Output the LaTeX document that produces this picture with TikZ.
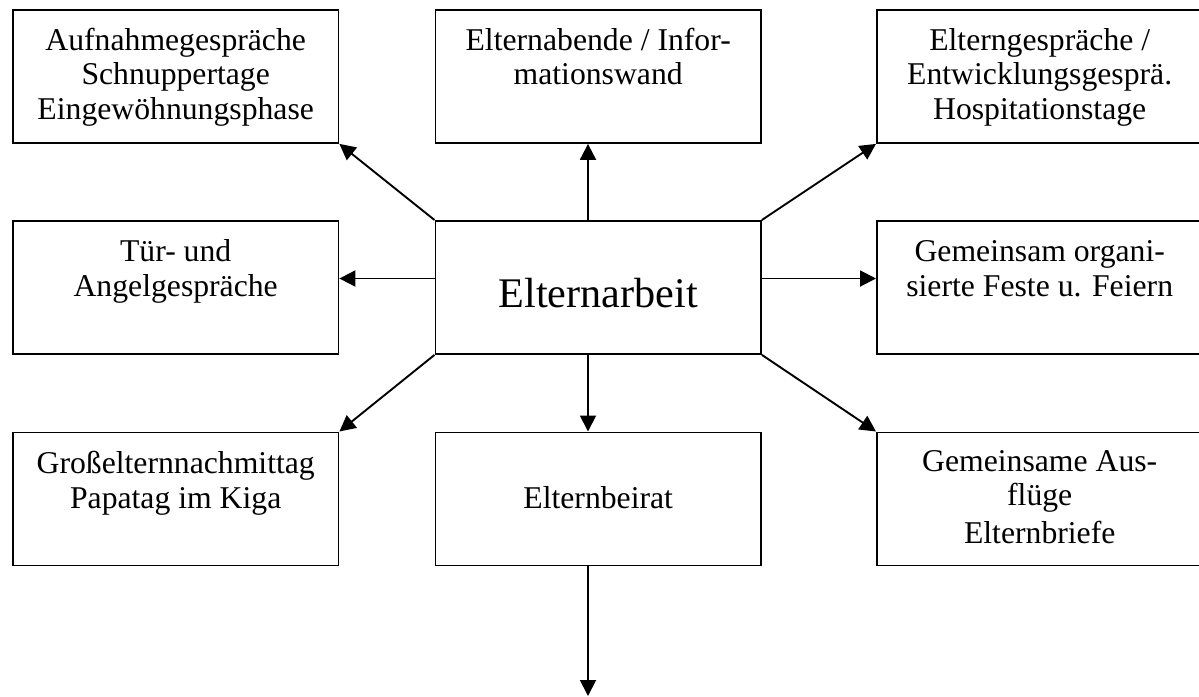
\documentclass[tikz,border=0pt]{standalone}
\usepackage{fontspec}
\setmainfont{Liberation Serif}
\usetikzlibrary{arrows.meta,calc}
\begin{document}
\begin{tikzpicture}[x=1pt,y=-1pt,
  box/.style={draw,line width=1.9pt,minimum width=325.5pt,minimum height=133pt,inner sep=0pt,anchor=north west},
  txt/.style={font=\fontsize{31.7}{34.5}\selectfont,align=center,inner sep=0pt,anchor=north},
  big/.style={font=\fontsize{42.2}{48}\selectfont,inner sep=0pt,anchor=base},
  link/.style={line width=1.9pt,-{Triangle[length=16pt,width=16pt]}}]
\useasboundingbox (0,0) rectangle (1199,696);

% boxes
\node[box] (aufnahme)    at (12,9) {};
\node[box] (abende)      at (434.5,9) {};
\node[box] (gespraeche)  at (876,9) {};
\node[box] (tuer)        at (12,220) {};
\node[box] (mitte)       at (434.5,220) {};
\node[box] (feste)       at (876,220) {};
\node[box] (grosseltern) at (12,431.5) {};
\node[box] (beirat)      at (434.5,431.5) {};
\node[box] (ausfluege)   at (876,431.5) {};

% box texts
\node[txt] (t1) at ($(aufnahme.north)+(0,17)$) {\strut Aufnahmegespräche\\Schnuppertage\\Eingewöhnungsphase};
\node[txt] (t2) at ($(abende.north)+(0,17)$) {\strut Elternabende / Infor-\\mationswand};
\node[txt] (t3) at ($(gespraeche.north)+(0,17)$) {\strut Elterngespräche /\\Entwicklungsgesprä.\\Hospitationstage};
\node[txt] (t4) at ($(tuer.north)+(0,17.5)$) {\strut Tür- und\\Angelgespräche};
\node[txt] (t5) at ($(feste.north)+(0,17.5)$) {\strut Gemeinsam organi-\\sierte Feste u. Feiern};
\node[txt] (t6) at ($(grosseltern.north)+(0,18)$) {\strut Großelternnachmittag\\Papatag im Kiga};
\node[txt] (t7) at ($(ausfluege.north)+(0,15.5)$) {\strut Gemeinsame Aus-\\flüge\\[3.5pt]Elternbriefe};
\node[big] (t8) at ($(mitte.north)+(0,87.7)$) {Elternarbeit};
\node[big,font=\fontsize{31.7}{34.5}\selectfont] (t9) at ($(beirat.north)+(0,76.8)$) {Elternbeirat};

% connector guides
\coordinate (vx) at (588,0);
\coordinate (hy) at (0,278.5);
\coordinate (ende) at (588,696);

% connectors
\draw[link] (mitte.north west) -- (aufnahme.south east);
\draw[link] (mitte.north -| vx) -- (abende.south -| vx);
\draw[link] (mitte.north east) -- (gespraeche.south west);
\draw[link] (mitte.west |- hy) -- (tuer.east |- hy);
\draw[link] (mitte.east |- hy) -- (feste.west |- hy);
\draw[link] (mitte.south west) -- (grosseltern.north east);
\draw[link] (mitte.south -| vx) -- (beirat.north -| vx);
\draw[link] (mitte.south east) -- (ausfluege.north west);
\draw[link] (beirat.south -| vx) -- (ende);
\end{tikzpicture}
\end{document}
